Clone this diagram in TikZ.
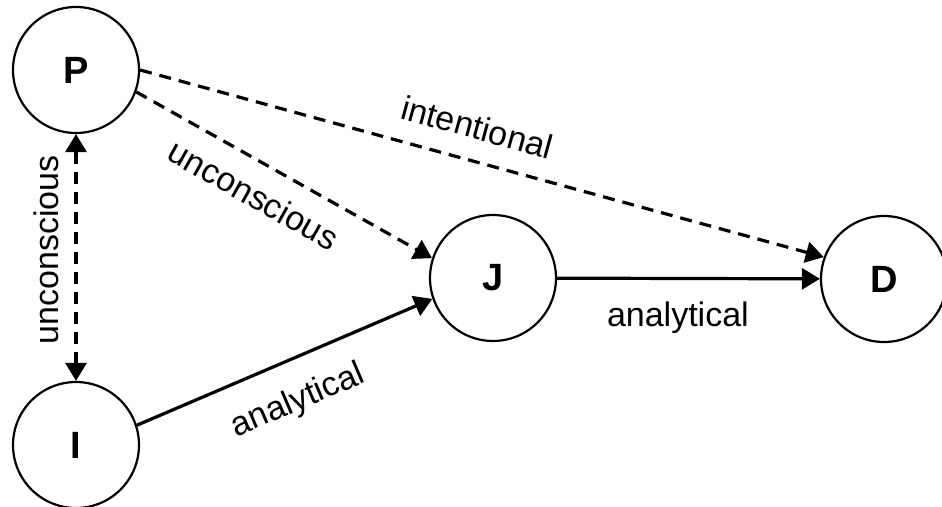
\documentclass[tikz,border=0pt]{standalone}
\usepackage{fontspec}
\setmainfont{Liberation Sans}
\usepackage{tikz}
\usetikzlibrary{arrows.meta}

\begin{document}
\begin{tikzpicture}[x=0.5pt,y=-0.5pt,
		state/.style={circle,draw,line width=1.1pt,minimum size=63pt,inner sep=0pt,font=\fontsize{19}{22}\selectfont\bfseries},
		link/.style={line width=1.6pt,-{Triangle[length=9pt,width=10.5pt]}},
		guess/.style={link,dash pattern=on 6pt off 4pt},
		lbl/.style={font=\fontsize{17}{20}\selectfont,sloped,inner sep=3pt}]
		\useasboundingbox (0,0) rectangle (942,507);
		\node[state] (P) at (76,70) {P};
		\node[state] (I) at (76,445) {I};
		\node[state] (J) at (493,278) {J};
		\node[state] (D) at (884,279) {D};
		\draw[guess] (P.east) -- node[lbl,above=7pt,pos=0.48] {intentional} (D.160);
		\draw[guess] (P.-20) -- node[lbl,below=6pt,pos=0.45] {unconscious} (J.162);
		\draw[guess,{Triangle[length=9pt,width=10.5pt]}-{Triangle[length=9pt,width=10.5pt]}] (I.north) -- node[lbl,above=5pt,pos=0.53] {unconscious} (P.south);
		\draw[link] (I.18) -- node[lbl,below=9pt,pos=0.49] {analytical} (J.199);
		\draw[link] (J) -- node[lbl,below=8pt,pos=0.46] {analytical} (D);
	\end{tikzpicture}
\end{document}
